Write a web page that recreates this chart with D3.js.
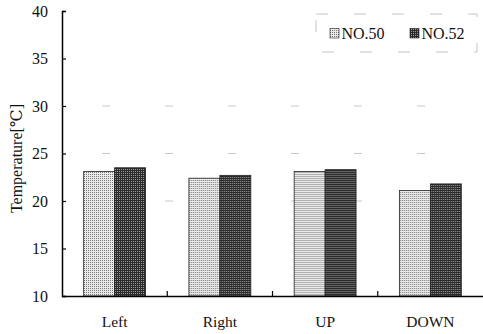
<!DOCTYPE html>
<html>
<head>
<meta charset="utf-8">
<script src="https://cdn.jsdelivr.net/npm/d3@7"></script>
<style>
  html, body { margin: 0; padding: 0; background: #fff; }
  svg { display: block; font-family: "Liberation Serif", "DejaVu Serif", serif; }
</style>
</head>
<body>
<svg id="chart" width="483" height="334"></svg>
<script>
// Temperature per position for two samples
const categories = ["Left", "Right", "UP", "DOWN"];
const seriesNames = ["NO.50", "NO.52"];
const no50 = [23.1, 22.4, 23.1, 21.1];
const no52 = [23.5, 22.7, 23.3, 21.8];
const yTicks = [10, 15, 20, 25, 30, 35, 40];
const gridValues = [20, 25, 30];

const svg = d3.select("#chart");
const W = 483, H = 334;
const margin = { left: 62, right: 0, top: 11, bottom: 38 };

const x = d3.scaleBand().domain(categories).range([margin.left, W - margin.right]).paddingInner(0).paddingOuter(0);
const xs = d3.scaleBand().domain(seriesNames).range([0, x.bandwidth()]).paddingInner(0).paddingOuter(0.7);
const y = d3.scaleLinear().domain([10, 40]).range([H - margin.bottom, margin.top]);

// fill patterns: fine light dots and dark grid
const defs = svg.append("defs");
const p1 = defs.append("pattern").attr("id", "dots").attr("width", 2).attr("height", 2).attr("patternUnits", "userSpaceOnUse");
p1.append("rect").attr("width", 2).attr("height", 2).attr("fill", "#eaeaea");
p1.append("rect").attr("width", 1).attr("height", 1).attr("fill", "#777");
const p2 = defs.append("pattern").attr("id", "grid").attr("width", 2).attr("height", 2).attr("patternUnits", "userSpaceOnUse");
p2.append("rect").attr("width", 2).attr("height", 2).attr("fill", "#2a2a2a");
p2.append("rect").attr("x", 1).attr("y", 1).attr("width", 1).attr("height", 1).attr("fill", "#9c9c9c");
const fills = { "NO.50": "url(#dots)", "NO.52": "url(#grid)" };

// faint gridlines
svg.append("g").selectAll("line").data(gridValues).join("line")
  .attr("x1", margin.left + 40).attr("x2", W - 5)
  .attr("y1", d => y(d)).attr("y2", d => y(d))
  .attr("stroke", "#c8c8c8").attr("stroke-width", 1)
  .attr("stroke-dasharray", "8,55");

// bars
const rows = categories.map((c, i) => ({ cat: c, vals: [{ s: "NO.50", v: no50[i] }, { s: "NO.52", v: no52[i] }] }));
const groups = svg.append("g").selectAll("g").data(rows).join("g")
  .attr("transform", d => `translate(${x(d.cat)},0)`);
groups.selectAll("rect").data(d => d.vals).join("rect")
  .attr("x", d => xs(d.s))
  .attr("width", xs.bandwidth())
  .attr("y", d => y(d.v))
  .attr("height", d => y(10) - y(d.v))
  .attr("fill", d => fills[d.s])
  .attr("stroke", "#222").attr("stroke-width", 0.8);

// y axis
const yAxis = d3.axisRight(y).tickValues(yTicks).tickSize(4).tickFormat(d3.format("d"));
const gy = svg.append("g").attr("transform", `translate(${margin.left},0)`).call(yAxis);
gy.select(".domain").attr("stroke", "#000").attr("stroke-width", 1.5);
gy.selectAll(".tick line").attr("stroke", "#000").attr("stroke-width", 1.2);
gy.selectAll(".tick text")
  .attr("x", -14).attr("text-anchor", "end")
  .attr("font-size", 16).attr("fill", "#111")
  .attr("font-family", "Liberation Serif");

// x axis
const xAxis = d3.axisTop(x).tickSize(0).tickFormat("");
const gx = svg.append("g").attr("transform", `translate(0,${y(10)})`).call(xAxis);
gx.select(".domain").attr("stroke", "#000").attr("stroke-width", 1.5);
// category dividers
svg.append("g").selectAll("line").data(categories.slice(1)).join("line")
  .attr("x1", d => x(d)).attr("x2", d => x(d))
  .attr("y1", y(10)).attr("y2", y(10) - 5)
  .attr("stroke", "#000").attr("stroke-width", 1.2);
// category labels
svg.append("g").selectAll("text").data(categories).join("text")
  .attr("x", d => x(d) + x.bandwidth() / 2)
  .attr("y", y(10) + 31)
  .attr("text-anchor", "middle")
  .attr("font-size", 15.5).attr("fill", "#111")
  .text(d => d);

// y title
svg.append("text")
  .attr("transform", `translate(22,${(y(10) + y(40)) / 2 + 5}) rotate(-90)`)
  .attr("text-anchor", "middle")
  .attr("font-size", 16).attr("fill", "#111")
  .text("Temperature[℃]");

// legend
const lg = svg.append("g");
lg.append("rect").attr("x", 316).attr("y", 14).attr("width", 161).attr("height", 38)
  .attr("fill", "none").attr("stroke", "#c4c4c4").attr("stroke-width", 1)
  .attr("stroke-dasharray", "12,26");
const legendX = [330, 410];
seriesNames.forEach((s, i) => {
  lg.append("rect").attr("x", legendX[i]).attr("y", 28.5).attr("width", 9).attr("height", 9.5)
    .attr("fill", fills[s]).attr("stroke", "#222").attr("stroke-width", 0.6);
  lg.append("text").attr("x", legendX[i] + 11.5).attr("y", 38.5)
    .attr("font-size", 16).attr("fill", "#111").text(s);
});
</script>
</body>
</html>
